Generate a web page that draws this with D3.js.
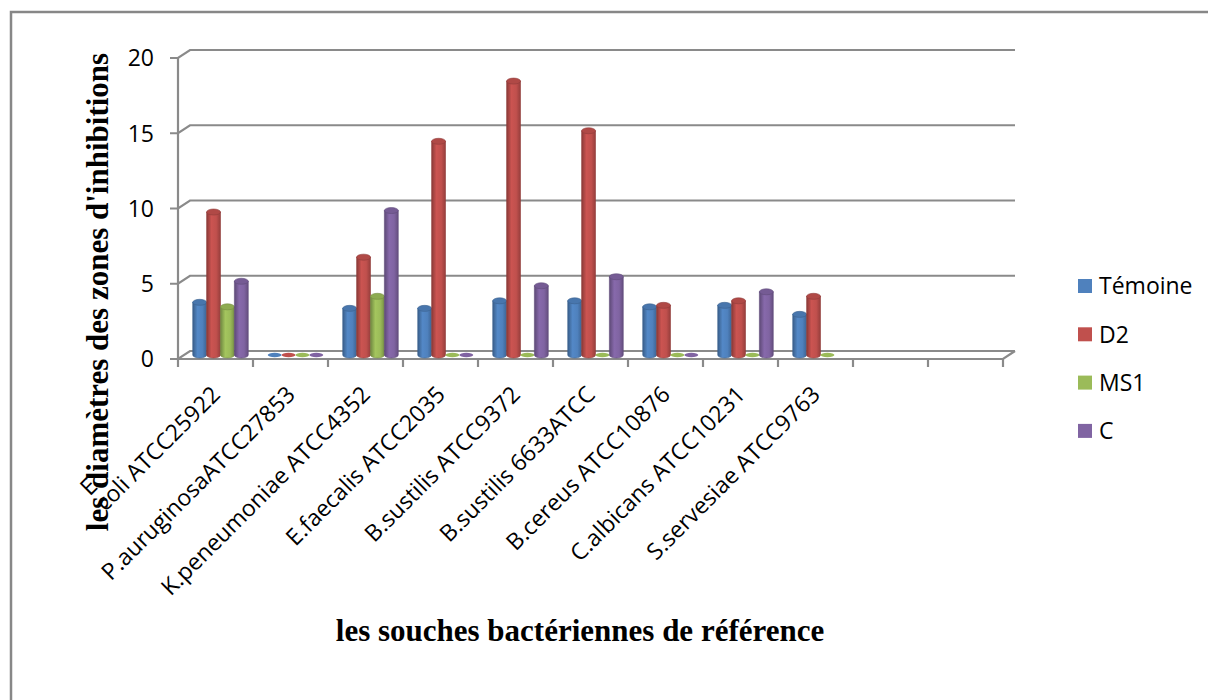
<!DOCTYPE html>
<meta charset="utf-8">
<style>
	body {
		margin: 0;
		background: #fff;
		font-family: "Open Sans", sans-serif;
	}
	.grid {
		fill: none;
		stroke: #8a8a8a;
		stroke-width: 2.2px;
	}
	.lbl {
		font-family: "Open Sans", sans-serif;
		font-size: 23px;
		fill: #000;
	}
	.title {
		font-family: "Liberation Serif", "Times New Roman", serif;
		font-weight: bold;
		font-size: 31px;
		fill: #000;
	}
</style>
<body>
<svg id="chart" width="1208" height="700"></svg>
<script src="https://cdnjs.cloudflare.com/ajax/libs/d3/7.8.5/d3.min.js"></script>
<script>
	// categories (last two are empty slots on the axis)
	var categories = ["E.coli ATCC25922", "P.auruginosaATCC27853", "K.peneumoniae ATCC4352",
		"E.faecalis ATCC2035", "B.sustilis ATCC9372", "B.sustilis 6633ATCC",
		"B.cereus ATCC10876", "C.albicans ATCC10231", "S.servesiae ATCC9763", "", " "];
	var series = ["Témoine", "D2", "MS1", "C"];
	var temoine = [3.5, 0, 3.1, 3.1, 3.6, 3.6, 3.2, 3.3, 2.7];
	var d2 = [9.5, 0, 6.5, 14.2, 18.2, 14.9, 3.3, 3.6, 3.9];
	var ms1 = [3.2, 0, 3.9, 0, 0, 0, 0, 0, 0];
	var cc = [4.9, 0, 9.6, 0, 4.6, 5.2, 0, 4.2, null];
	var yTicks = [0, 5, 10, 15, 20];
	var colors = ["#4F81BD", "#C0504D", "#9BBB59", "#8064A2"];

	var values = [temoine, d2, ms1, cc];

	var svg = d3.select("#chart");

	// frame round the chart area
	svg.append("rect")
		.attr("x", 11).attr("y", 12)
		.attr("width", 1240).attr("height", 720)
		.attr("fill", "none")
		.attr("stroke", "#878787")
		.attr("stroke-width", 2.5);

	var x = d3.scaleBand().domain(categories).range([178, 1003]).padding(0);
	var inner = d3.scaleBand().domain(series).range([0, x.bandwidth()])
		.paddingInner(0).paddingOuter(0.7);
	var y = d3.scaleLinear().domain([0, 20]).range([359, 58]);

	var back = {dx: 12, dy: -8};   // depth of the back wall
	var mid = {dx: 5, dy: -4};     // where the cylinders stand

	var x0 = x.range()[0], x1 = x.range()[1];

	// back wall gridlines + side wall diagonals + ticks
	yTicks.forEach(function(t) {
		var yf = y(t);
		svg.append("path").attr("class", "grid")
			.attr("d", "M" + (x0 - 8) + "," + yf + "L" + x0 + "," + yf +
				"L" + (x0 + back.dx) + "," + (yf + back.dy) +
				"L" + (x1 + back.dx) + "," + (yf + back.dy));
	});
	// left axis
	svg.append("path").attr("class", "grid")
		.attr("d", "M" + x0 + "," + y(20) + "L" + x0 + "," + (y(0) + 8));
	// floor front edge and right side
	svg.append("path").attr("class", "grid")
		.attr("d", "M" + x0 + "," + y(0) + "L" + x1 + "," + y(0) +
			"L" + (x1 + back.dx) + "," + (y(0) + back.dy));
	// category ticks
	categories.forEach(function(c) {
		var xx = x(c) + x.bandwidth();
		svg.append("path").attr("class", "grid")
			.attr("d", "M" + xx + "," + y(0) + "L" + xx + "," + (y(0) + 8));
	});

	// y tick labels
	svg.selectAll(".ytick").data(yTicks).enter().append("text")
		.attr("class", "lbl")
		.attr("x", 154)
		.attr("y", function(d) { return y(d); })
		.attr("dy", "0.36em")
		.attr("text-anchor", "end")
		.text(function(d) { return d; });

	// gradients for the cylinders
	var defs = svg.append("defs");
	colors.forEach(function(c, i) {
		var base = d3.color(c);
		var g = defs.append("linearGradient").attr("id", "cyl" + i)
			.attr("x1", "0%").attr("x2", "100%").attr("y1", "0%").attr("y2", "0%");
		g.append("stop").attr("offset", "0%").attr("stop-color", base.darker(0.9));
		g.append("stop").attr("offset", "35%").attr("stop-color", base.brighter(0.15));
		g.append("stop").attr("offset", "70%").attr("stop-color", base);
		g.append("stop").attr("offset", "100%").attr("stop-color", base.darker(0.7));
	});

	var ry = 3;
	series.forEach(function(s, si) {
		var vals = values[si];
		var g = svg.append("g");
		vals.forEach(function(v, ci) {
			if (v === null) return;
			var bx = x(categories[ci]) + inner(s) + mid.dx;
			var w = inner.bandwidth();
			var yb = y(0) + mid.dy;
			var yt = y(v) + mid.dy;
			var stroke = d3.color(colors[si]).darker(0.8);
			if (v > 0) {
				g.append("path")
					.attr("d", "M" + bx + "," + yt + "L" + bx + "," + yb +
						"A" + (w / 2) + "," + ry + " 0 0 0 " + (bx + w) + "," + yb +
						"L" + (bx + w) + "," + yt + "Z")
					.attr("fill", "url(#cyl" + si + ")")
					.attr("stroke", stroke).attr("stroke-width", 0.6);
				g.append("ellipse")
					.attr("cx", bx + w / 2).attr("cy", yt)
					.attr("rx", w / 2).attr("ry", ry)
					.attr("fill", d3.color(colors[si]).darker(0.25))
					.attr("stroke", stroke).attr("stroke-width", 0.6);
			} else {
				g.append("ellipse")
					.attr("cx", bx + w / 2).attr("cy", yb)
					.attr("rx", w / 2).attr("ry", 2.2)
					.attr("fill", colors[si]);
			}
		});
	});

	// category labels, rotated
	categories.forEach(function(c) {
		if (!c.trim()) return;
		var cx = x(c) + x.bandwidth() / 2 + 6;
		var t = svg.append("text").attr("class", "lbl")
			.attr("transform", "translate(" + cx + ",396) rotate(-45)")
			.attr("text-anchor", "end");
		if (c === "E.coli ATCC25922") {
			// wrapped in two lines, left aligned inside the block
			var line2 = "coli ATCC25922";
			t.attr("text-anchor", "start");
			var tmp = t.append("tspan").text(line2);
			var wLen = tmp.node().getComputedTextLength();
			tmp.remove();
			t.append("tspan").attr("x", -wLen).attr("y", -22).text("E.");
			t.append("tspan").attr("x", -wLen).attr("y", 0).text(line2);
		} else {
			t.text(c);
		}
	});

	// axis titles
	svg.append("text").attr("class", "title")
		.attr("x", 580).attr("y", 641)
		.attr("text-anchor", "middle")
		.text("les souches bactériennes de référence");
	svg.append("text").attr("class", "title")
		.attr("transform", "translate(108,292) rotate(-90)")
		.attr("text-anchor", "middle")
		.text("les diamètres des zones d'inhibitions");

	// legend
	var leg = svg.append("g");
	series.forEach(function(s, i) {
		var ly = 286 + i * 48.3;
		leg.append("rect").attr("x", 1078).attr("y", ly - 7)
			.attr("width", 14).attr("height", 14).attr("fill", colors[i]);
		leg.append("text").attr("class", "lbl")
			.attr("x", 1099).attr("y", ly).attr("dy", "0.36em")
			.text(s);
	});
</script>
</body>
